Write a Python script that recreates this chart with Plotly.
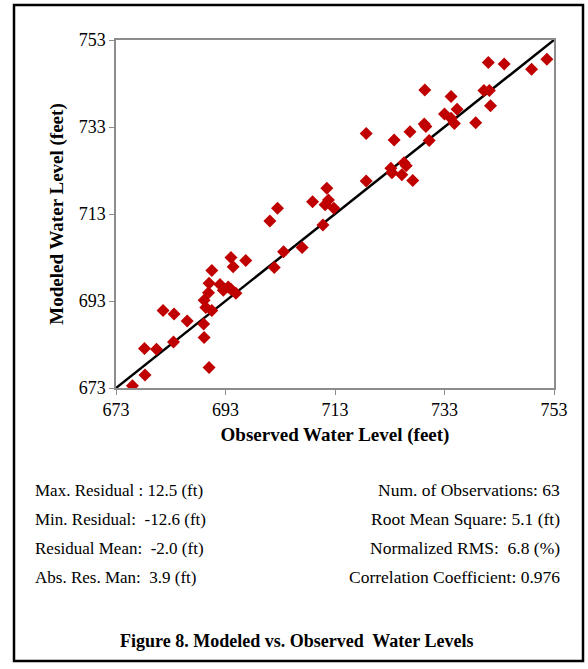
import plotly.graph_objects as go

observed = [676.0, 678.3, 678.2, 680.4, 683.5, 681.6, 683.6, 686.0, 689.0, 689.1,
            690.0, 690.5, 690.0, 689.9, 689.1, 689.4, 690.5, 692.0, 692.6, 694.0,
            694.9, 694.0, 694.4, 696.7, 701.1, 702.5, 701.9, 703.6, 707.0, 710.8,
            708.9, 711.5, 711.2, 711.8, 712.8, 718.7, 718.7, 723.8, 726.7, 729.3,
            729.6, 730.2, 723.2, 723.4, 725.2, 725.6, 726.0, 727.2, 729.4, 734.2,
            733.0, 734.2, 735.3, 734.8, 738.7, 740.2, 741.2, 741.4, 741.0, 743.9,
            748.9, 751.7, 693.5]
modeled = [673.5, 676.0, 682.1, 681.9, 683.6, 690.8, 690.0, 688.4, 687.7, 684.6,
           677.7, 700.0, 697.1, 694.9, 693.2, 691.5, 690.8, 696.8, 695.5, 695.7,
           694.8, 703.0, 700.9, 702.3, 711.4, 714.3, 700.7, 704.3, 705.3, 710.5,
           715.8, 718.9, 715.1, 716.2, 714.3, 731.5, 720.6, 730.0, 731.9, 733.7,
           733.1, 729.9, 723.5, 722.5, 722.0, 724.8, 724.1, 720.7, 741.5, 740.0,
           736.0, 735.0, 737.1, 733.8, 734.0, 741.4, 741.4, 737.9, 747.8, 747.5,
           746.3, 748.6, 696.2]
line_xy = [673, 753]
ticks = [673, 693, 713, 733, 753]

left_stats = ["Max. Residual : 12.5 (ft)", "Min. Residual:  -12.6 (ft)",
              "Residual Mean:  -2.0 (ft)", "Abs. Res. Man:  3.9 (ft)"]
right_stats = ["Num. of Observations: 63", "Root Mean Square: 5.1 (ft)",
               "Normalized RMS:  6.8 (%)", "Correlation Coefficient: 0.976"]
caption = "Figure 8. Modeled vs. Observed  Water Levels"

W, H = 588, 669
L, R, T, B = 116, 554, 40, 388


def px(x):
    return (x - L) / (R - L)


def py(y):
    return (B - y) / (B - T)


FONT = "Liberation Serif, Times New Roman, serif"

fig = go.Figure()
fig.add_trace(go.Scatter(x=line_xy, y=line_xy, mode="lines",
                         line=dict(color="black", width=2.5), hoverinfo="skip"))
fig.add_trace(go.Scatter(x=observed, y=modeled, mode="markers",
                         marker=dict(symbol="diamond", size=10, color="#C00000",
                                     line=dict(width=0))))

axis_common = dict(range=[673, 753], tickvals=ticks, ticks="outside", ticklen=5,
                   tickcolor="#8c8c8c", linecolor="#8c8c8c", linewidth=1.5,
                   mirror=True, showgrid=False, zeroline=False,
                   tickfont=dict(family=FONT, size=18, color="black"))

fig.update_layout(
    width=W, height=H,
    margin=dict(l=L, r=W - R, t=T, b=H - B),
    paper_bgcolor="white", plot_bgcolor="white",
    showlegend=False,
    xaxis=dict(**axis_common,
               title=dict(text="<b>Observed Water Level (feet)</b>", standoff=8,
                          font=dict(family=FONT, size=19, color="black"))),
    yaxis=dict(**axis_common,
               title=dict(text="<b>Modeled Water Level (feet)</b>", standoff=10,
                          font=dict(family=FONT, size=19, color="black"))),
)

ann = []
rows_y = [490, 519, 548, 577]
for t, yy in zip(left_stats, rows_y):
    ann.append(dict(x=px(33), y=py(yy), xref="paper", yref="paper", text=t,
                    showarrow=False, xanchor="left", yanchor="middle",
                    font=dict(family=FONT, size=17, color="black")))
for t, yy in zip(right_stats, rows_y):
    ann.append(dict(x=px(562), y=py(yy), xref="paper", yref="paper", text=t,
                    showarrow=False, xanchor="right", yanchor="middle",
                    font=dict(family=FONT, size=17.5, color="black")))
ann.append(dict(x=px(296), y=py(641), xref="paper", yref="paper",
                text="<b>" + caption + "</b>", showarrow=False,
                xanchor="center", yanchor="middle",
                font=dict(family=FONT, size=18, color="black")))
fig.update_layout(annotations=ann)

fig.add_shape(type="rect", xref="paper", yref="paper",
              x0=px(14), x1=px(583), y0=py(661), y1=py(5),
              line=dict(color="black", width=2.5))

fig.write_html("out.html", config={"displayModeBar": False},
               post_script="document.body.style.margin='0';document.body.style.padding='0';")
